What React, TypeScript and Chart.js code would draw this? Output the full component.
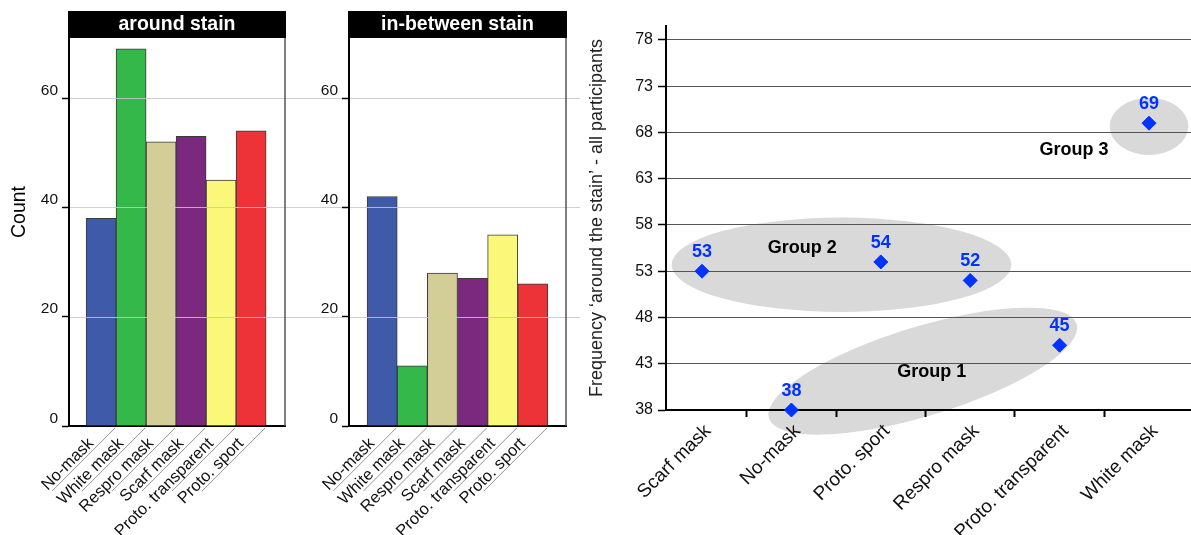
import React, { useEffect, useRef } from 'react';
import { Chart, registerables } from 'chart.js';

Chart.register(...registerables);

const FONT = "'Liberation Sans', Arial, Helvetica, sans-serif";
Chart.defaults.font.family = FONT;
Chart.defaults.color = '#111';

// ---------- data ----------
const CATEGORIES = ['No-mask', 'White mask', 'Respro mask', 'Scarf mask', 'Proto. transparent', 'Proto. sport'];
const AROUND_STAIN = [38, 69, 52, 53, 45, 54];
const BETWEEN_STAIN = [42, 11, 28, 27, 35, 26];
const BAR_COLORS = ['#3f5aa9', '#35b84a', '#d3ce98', '#7b297e', '#fbf879', '#ee3338'];
const COUNT_TICKS = [0, 20, 40, 60];
const PANEL_TITLES = ['around stain', 'in-between stain'];
const COUNT_TITLE = 'Count';

const SCATTER_CATS = ['Scarf mask', 'No-mask', 'Proto. sport', 'Respro mask', 'Proto. transparent', 'White mask'];
const SCATTER_VALUES = [53, 38, 54, 52, 45, 69];
const FREQ_TICKS = [38, 43, 48, 53, 58, 63, 68, 73, 78];
const FREQ_TITLE = 'Frequency \u2018around the stain\u2019 - all participants';

// group annotations (data units: x = category index, y = frequency)
const GROUP_NAMES = ['Group 1', 'Group 2', 'Group 3'];
const GROUP_LABEL_X = [2.57, 1.12, 4.16];
const GROUP_LABEL_Y = [42.1, 55.5, 66.1];
const ELLIPSE_CX = [2.47, 1.56, 5.0];
const ELLIPSE_CY = [42.2, 53.7, 68.65];
const ELLIPSE_RX = [1.8, 1.9, 0.44];
const ELLIPSE_RY = [4.82, 5.1, 3.08];
const ELLIPSE_ROT_DEG = [-17, 0, 0];

const BLUE = '#0033ff';

function makePanelPlugin(title: string, showCount: boolean, gridFromZero: boolean) {
  return {
    id: 'panelDecor',
    afterDatasetsDraw(chart: any) {
      const { ctx, chartArea, scales } = chart;
      ctx.save();
      ctx.strokeStyle = 'rgba(200,200,200,0.85)';
      ctx.lineWidth = 1;
      COUNT_TICKS.forEach((v) => {
        if (v === 0) return;
        const y = Math.round(scales.y.getPixelForValue(v)) + 0.5;
        ctx.beginPath();
        if (gridFromZero) {
          ctx.moveTo(0, y);
          ctx.lineTo(chartArea.left - 7, y);
        }
        ctx.moveTo(chartArea.left + 1, y);
        ctx.lineTo(chart.width, y);
        ctx.stroke();
      });
      ctx.restore();
    },
    afterDraw(chart: any) {
      const { ctx, chartArea, scales } = chart;
      ctx.save();
      // right border
      ctx.strokeStyle = '#555';
      ctx.lineWidth = 1.5;
      ctx.beginPath();
      ctx.moveTo(chartArea.right, chartArea.top);
      ctx.lineTo(chartArea.right, chartArea.bottom);
      ctx.stroke();
      // title box
      ctx.fillStyle = '#000';
      ctx.fillRect(chartArea.left - 1, 11, chartArea.right - chartArea.left + 2, 27);
      ctx.fillStyle = '#fff';
      ctx.font = `bold 19.5px ${FONT}`;
      ctx.textAlign = 'center';
      ctx.textBaseline = 'middle';
      ctx.fillText(title, (chartArea.left + chartArea.right) / 2, 25);
      // label underlines
      ctx.strokeStyle = '#777';
      ctx.lineWidth = 0.8;
      CATEGORIES.forEach((_, i) => {
        const x0 = scales.x.getPixelForValue(i + 0.5) - 1;
        const y0 = chartArea.bottom + 2;
        ctx.beginPath();
        ctx.moveTo(x0, y0);
        ctx.lineTo(x0 - 63, y0 + 63);
        ctx.stroke();
      });
      // y title
      if (showCount) {
        ctx.translate(20, 212);
        ctx.rotate(-Math.PI / 2);
        ctx.fillStyle = '#000';
        ctx.font = `19.5px ${FONT}`;
        ctx.textAlign = 'center';
        ctx.textBaseline = 'middle';
        ctx.fillText(COUNT_TITLE, 0, 0);
      }
      ctx.restore();
    },
  };
}

function barConfig(values: number[], title: string, yWidth: number, rightPad: number, xMin: number, xMax: number, showCount: boolean, gridFromZero: boolean) {
  return {
    type: 'bar',
    data: {
      datasets: [
        {
          data: values.map((v, i) => ({ x: i, y: v })),
          backgroundColor: BAR_COLORS,
          borderColor: '#3a3a3a',
          borderWidth: 1,
          barPercentage: 1,
          categoryPercentage: 1,
        },
      ],
    },
    options: {
      animation: false,
      responsive: false,
      events: [],
      layout: { autoPadding: false, padding: { top: 38, right: rightPad, left: 0, bottom: 0 } },
      plugins: { legend: { display: false }, tooltip: { enabled: false }, title: { display: false } },
      scales: {
        x: {
          type: 'linear',
          min: xMin,
          max: xMax,
          offset: false,
          afterFit: (s: any) => {
            s.height = 109;
          },
          afterBuildTicks: (s: any) => {
            s.ticks = CATEGORIES.map((_, i) => ({ value: i }));
          },
          grid: { display: false, drawTicks: false, offset: false },
          border: { display: true, color: '#000', width: 2 },
          ticks: {
            autoSkip: false,
            minRotation: 45,
            maxRotation: 45,
            padding: 8,
            labelOffset: -10,
            color: '#111',
            font: { size: 16.5 },
            callback: (v: any) => CATEGORIES[v] ?? '',
          },
        },
        y: {
          min: 0,
          max: 71,
          afterFit: (s: any) => {
            s.width = yWidth;
          },
          afterBuildTicks: (s: any) => {
            s.ticks = COUNT_TICKS.map((v) => ({ value: v }));
          },
          grid: { display: true, drawOnChartArea: false, drawTicks: true, tickLength: 7, tickColor: '#000', tickWidth: 1.5 },
          border: { display: true, color: '#000', width: 2 },
          ticks: { padding: 4, labelOffset: -7.5, color: '#111', font: { size: 15.5 } },
        },
      },
    },
    plugins: [makePanelPlugin(title, showCount, gridFromZero)],
  };
}

const scatterPlugin = {
  id: 'scatterDecor',
  beforeDraw(chart: any) {
    const { ctx, scales } = chart;
    const xs = scales.x;
    const ys = scales.y;
    const pxX = Math.abs(xs.getPixelForValue(1) - xs.getPixelForValue(0));
    const pxY = Math.abs(ys.getPixelForValue(0) - ys.getPixelForValue(1));
    ctx.save();
    ctx.fillStyle = '#d9d9d9';
    GROUP_NAMES.forEach((_, i) => {
      ctx.beginPath();
      ctx.ellipse(
        xs.getPixelForValue(ELLIPSE_CX[i]),
        ys.getPixelForValue(ELLIPSE_CY[i]),
        ELLIPSE_RX[i] * pxX,
        ELLIPSE_RY[i] * pxY,
        (ELLIPSE_ROT_DEG[i] * Math.PI) / 180,
        0,
        Math.PI * 2
      );
      ctx.fill();
    });
    ctx.restore();
  },
  afterDatasetsDraw(chart: any) {
    const { ctx, scales } = chart;
    const xs = scales.x;
    const ys = scales.y;
    ctx.save();
    ctx.textAlign = 'center';
    ctx.textBaseline = 'middle';
    ctx.font = `bold 18px ${FONT}`;
    ctx.fillStyle = BLUE;
    SCATTER_VALUES.forEach((v, i) => {
      ctx.fillText(String(v), xs.getPixelForValue(i), ys.getPixelForValue(v) - 19);
    });
    ctx.fillStyle = '#000';
    GROUP_NAMES.forEach((g, i) => {
      ctx.fillText(g, xs.getPixelForValue(GROUP_LABEL_X[i]), ys.getPixelForValue(GROUP_LABEL_Y[i]));
    });
    ctx.restore();
  },
};

function scatterConfig() {
  return {
    type: 'scatter',
    data: {
      datasets: [
        {
          data: SCATTER_VALUES.map((v, i) => ({ x: i, y: v })),
          pointStyle: 'rectRot',
          pointRadius: 7,
          backgroundColor: BLUE,
          borderColor: BLUE,
          borderWidth: 1,
          clip: false,
        },
      ],
    },
    options: {
      animation: false,
      responsive: false,
      events: [],
      layout: { autoPadding: false, padding: { top: 26, right: 0, left: 0, bottom: 0 } },
      plugins: { legend: { display: false }, tooltip: { enabled: false } },
      scales: {
        x: {
          type: 'linear',
          min: -0.403,
          max: 5.47,
          afterFit: (s: any) => {
            s.height = 125;
          },
          afterBuildTicks: (s: any) => {
            s.ticks = SCATTER_CATS.map((_, i) => ({ value: i }));
          },
          grid: { display: true, offset: true, drawOnChartArea: false, drawTicks: true, tickLength: 7, color: '#000', tickColor: '#000', tickWidth: 2 },
          border: { display: true, color: '#000', width: 2 },
          ticks: {
            autoSkip: false,
            minRotation: 45,
            maxRotation: 45,
            padding: 3,
            labelOffset: 6,
            color: '#111',
            font: { size: 19 },
            callback: (v: any) => SCATTER_CATS[v] ?? '',
          },
        },
        y: {
          min: 38,
          max: 79.5,
          afterFit: (s: any) => {
            s.width = 86;
          },
          afterBuildTicks: (s: any) => {
            s.ticks = FREQ_TICKS.map((v) => ({ value: v }));
          },
          grid: { color: '#555', lineWidth: 1, drawTicks: true, tickLength: 8, tickColor: '#000', tickWidth: 1.5 },
          border: { display: true, color: '#000', width: 2 },
          ticks: { padding: 5, color: '#111', font: { size: 16 } },
          title: { display: true, text: FREQ_TITLE, color: '#222', font: { size: 18 }, padding: { top: 6, bottom: 0 } },
        },
      },
    },
    plugins: [scatterPlugin],
  };
}

export default function App() {
  const r1 = useRef<HTMLCanvasElement>(null);
  const r2 = useRef<HTMLCanvasElement>(null);
  const r3 = useRef<HTMLCanvasElement>(null);

  useEffect(() => {
    const charts = [
      new Chart(r1.current as any, barConfig(AROUND_STAIN, PANEL_TITLES[0], 69, 5, -1.07, 6.13, true, false) as any),
      new Chart(r2.current as any, barConfig(BETWEEN_STAIN, PANEL_TITLES[1], 59, 14, -1.1, 6.1, false, true) as any),
      new Chart(r3.current as any, scatterConfig() as any),
    ];
    return () => charts.forEach((c) => c.destroy());
  }, []);

  return (
    <div style={{ position: 'absolute', left: 0, top: 0, width: 1191, height: 535, background: '#fff', overflow: 'hidden' }}>
      <canvas ref={r1} width={290} height={535} style={{ position: 'absolute', left: 0, top: 0, width: 290, height: 535 }} />
      <canvas ref={r2} width={290} height={535} style={{ position: 'absolute', left: 290, top: 0, width: 290, height: 535 }} />
      <canvas ref={r3} width={611} height={535} style={{ position: 'absolute', left: 580, top: 0, width: 611, height: 535 }} />
    </div>
  );
}
